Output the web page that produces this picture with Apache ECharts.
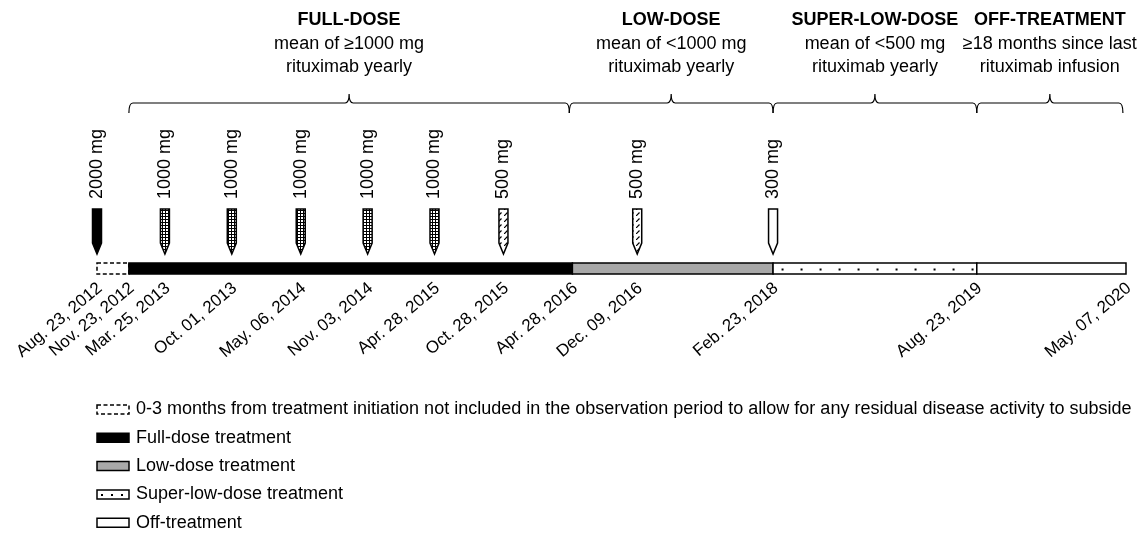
<!DOCTYPE html>
<html>
<head>
<meta charset="utf-8">
<script src="https://cdn.jsdelivr.net/npm/echarts@6/dist/echarts.min.js"></script>
<style>
  html, body { margin: 0; background: #fff; }
  #chart { width: 1148px; height: 536px; }
</style>
</head>
<body>
<div id="chart"></div>
<script>
// positions along the timeline in schematic units (0 = Aug 23 2012, 100 = May 07 2020),
// the original figure is not drawn to time scale so these are read off the picture
const dateLabels = ["Aug. 23, 2012", "Nov. 23, 2012", "Mar. 25, 2013", "Oct. 01, 2013", "May. 06, 2014",
  "Nov. 03, 2014", "Apr. 28, 2015", "Oct. 28, 2015", "Apr. 28, 2016", "Dec. 09, 2016",
  "Feb. 23, 2018", "Aug. 23, 2019", "May. 07, 2020"];
const datePos = [0, 3.1, 6.6, 13.1, 19.8, 26.3, 32.8, 39.5, 46.2, 52.5, 65.7, 85.5, 100];

const infusionPos = [0, 6.6, 13.1, 19.8, 26.3, 32.8, 39.5, 52.5, 65.7];
const infusionDose = [2000, 1000, 1000, 1000, 1000, 1000, 500, 500, 300];

const segmentNames = [
  "0-3 months from treatment initiation not included in the observation period to allow for any residual disease activity to subside",
  "Full-dose treatment", "Low-dose treatment", "Super-low-dose treatment", "Off-treatment"];
const segmentStart = [0, 3.1, 46.2, 65.7, 85.5];
const segmentEnd = [3.1, 46.2, 65.7, 85.5, 100];

const periodTitles = ["FULL-DOSE", "LOW-DOSE", "SUPER-LOW-DOSE", "OFF-TREATMENT"];
const periodNotes = [
  ["mean of ≥1000 mg", "rituximab yearly"],
  ["mean of <1000 mg", "rituximab yearly"],
  ["mean of <500 mg", "rituximab yearly"],
  ["≥18 months since last", "rituximab infusion"]];
const periodStart = [3.1, 45.9, 65.7, 85.5];
const periodEnd = [45.9, 65.7, 85.5, 99.7];

const FONT = '"Liberation Sans", Arial, Helvetica, sans-serif';
const W = 1148;

function makePattern(w, h, draw) {
  const c = document.createElement("canvas");
  c.width = w; c.height = h;
  draw(c.getContext("2d"));
  return { image: c, repeat: "repeat" };
}
const dottedFill = makePattern(3, 3, ctx => {
  ctx.fillStyle = "#000"; ctx.fillRect(0, 0, 3, 3);
  ctx.fillStyle = "#fff"; ctx.fillRect(1, 1, 2, 2);
});
const hatchFill = makePattern(6, 6, ctx => {
  ctx.fillStyle = "#fff"; ctx.fillRect(0, 0, 6, 6);
  ctx.strokeStyle = "#000"; ctx.lineWidth = 1.2;
  ctx.beginPath(); ctx.moveTo(0, 6); ctx.lineTo(3.5, 2.5); ctx.stroke();
});
const doseFill = { 2000: "#000", 1000: dottedFill, 500: hatchFill, 300: "#fff" };

const segStyles = [
  { fill: "#fff", stroke: "#000", lineWidth: 1.5, lineDash: [4, 2.5] },
  { fill: "#000", stroke: "#000", lineWidth: 1.5 },
  { fill: "#a8a8a8", stroke: "#000", lineWidth: 1.5 },
  { fill: "#fff", stroke: "#000", lineWidth: 1.5 },
  { fill: "#fff", stroke: "#000", lineWidth: 1.5 }
];

// little dots used inside the super-low-dose boxes
function dotsFor(x0, x1, y, step) {
  const out = [];
  for (let x = x0 + step / 2; x < x1 - 3; x += step) {
    out.push({ type: "rect", shape: { x: x - 1, y: y - 1, width: 2, height: 2 }, style: { fill: "#000" } });
  }
  return out;
}

const measure = document.createElement("canvas").getContext("2d");
function textWidth(str, size, bold) {
  measure.font = (bold ? "bold " : "") + size + "px " + FONT;
  return measure.measureText(str).width;
}

const chart = echarts.init(document.getElementById("chart"));

const option = {
  animation: false,
  grid: { left: 97, right: 22, top: 263, height: 11 },
  xAxis: { type: "value", min: 0, max: 100, show: false },
  yAxis: { type: "value", min: 0, max: 1, show: false },
  series: [
    {
      type: "custom", name: "segments", silent: true,
      data: segmentStart.map((s, i) => [s, segmentEnd[i], i]),
      renderItem: (params, api) => {
        const a = api.coord([api.value(0), 1]);
        const b = api.coord([api.value(1), 0]);
        const k = api.value(2);
        const children = [{
          type: "rect",
          shape: { x: a[0], y: a[1], width: b[0] - a[0], height: b[1] - a[1] },
          style: segStyles[k]
        }];
        if (k === 3) children.push(...dotsFor(a[0], b[0], a[1] + 6.5, 19));
        return { type: "group", children };
      }
    },
    {
      type: "custom", name: "infusions", silent: true,
      data: infusionPos.map((p, i) => [p, infusionDose[i]]),
      renderItem: (params, api) => {
        const p = api.coord([api.value(0), 1]);
        const x = p[0], base = p[1], hw = 4.5;
        const top = base - 54, bodyEnd = base - 20, tip = base - 9;
        const dose = api.value(1);
        return {
          type: "group",
          children: [
            {
              type: "polygon",
              shape: { points: [[x - hw, top], [x + hw, top], [x + hw, bodyEnd], [x, tip], [x - hw, bodyEnd]] },
              style: { fill: doseFill[dose], stroke: "#000", lineWidth: 1.5 }
            },
            {
              type: "text", x: x, y: base - 64, rotation: Math.PI / 2,
              style: { text: dose + " mg", align: "left", verticalAlign: "middle",
                fontSize: 18, fontFamily: FONT, fill: "#000" }
            }
          ]
        };
      }
    },
    {
      type: "custom", name: "dates", silent: true,
      data: datePos.map((p, i) => [p, i]),
      renderItem: (params, api) => {
        const p = api.coord([api.value(0), 0]);
        return {
          type: "text", x: p[0] + 3, y: p[1] + 12, rotation: 40 * Math.PI / 180,
          style: { text: dateLabels[api.value(1)], align: "right", verticalAlign: "middle",
            fontSize: 17, fontFamily: FONT, fill: "#000" }
        };
      }
    },
    {
      type: "custom", name: "periods", silent: true,
      data: periodStart.map((s, i) => [s, periodEnd[i], i]),
      renderItem: (params, api) => {
        const a = api.coord([api.value(0), 1]);
        const b = api.coord([api.value(1), 1]);
        const i = api.value(2);
        const x0 = a[0], x1 = b[0], mid = (x0 + x1) / 2;
        const yl = a[1] - 160, yb = yl + 10, yp = yl - 9, r = 4;
        const path = "M" + x0 + "," + yb + " Q" + x0 + "," + yl + " " + (x0 + r) + "," + yl +
          " L" + (mid - r) + "," + yl + " Q" + mid + "," + yl + " " + mid + "," + yp +
          " Q" + mid + "," + yl + " " + (mid + r) + "," + yl +
          " L" + (x1 - r) + "," + yl + " Q" + x1 + "," + yl + " " + x1 + "," + yb;
        const lines = periodNotes[i];
        const wMax = Math.max(textWidth(periodTitles[i], 18, true), ...lines.map(l => textWidth(l, 18, false)));
        // the last block of notes runs right up to the edge in the original
        const cx = Math.min(mid, W - wMax / 2 + 9);
        return {
          type: "group",
          children: [
            { type: "path", shape: { pathData: path }, style: { fill: null, stroke: "#000", lineWidth: 1.2 } },
            {
              type: "text", x: cx, y: yp - 15,
              style: {
                text: "{b|" + periodTitles[i] + "}\n" + lines.map(l => "{n|" + l + "}").join("\n"),
                align: "center", verticalAlign: "bottom",
                rich: {
                  b: { fontSize: 18, fontWeight: "bold", fontFamily: FONT, lineHeight: 23.5, fill: "#000", align: "center" },
                  n: { fontSize: 18, fontFamily: FONT, lineHeight: 23.5, fill: "#000", align: "center" }
                }
              }
            }
          ]
        };
      }
    }
  ],
  graphic: segmentNames.map((name, i) => {
    const y = 405 + i * 28.3;
    const kids = [
      { type: "rect", shape: { x: 0, y: 0, width: 32, height: 9 }, style: segStyles[i] },
      { type: "text", x: 39, y: 4.5, style: { text: name, fontSize: 18, fontFamily: FONT, fill: "#000", verticalAlign: "middle" } }
    ];
    if (i === 3) kids.push(...dotsFor(0, 32, 5, 10));
    return { type: "group", x: 97, y: y, silent: true, children: kids };
  })
};

chart.setOption(option);
</script>
</body>
</html>
